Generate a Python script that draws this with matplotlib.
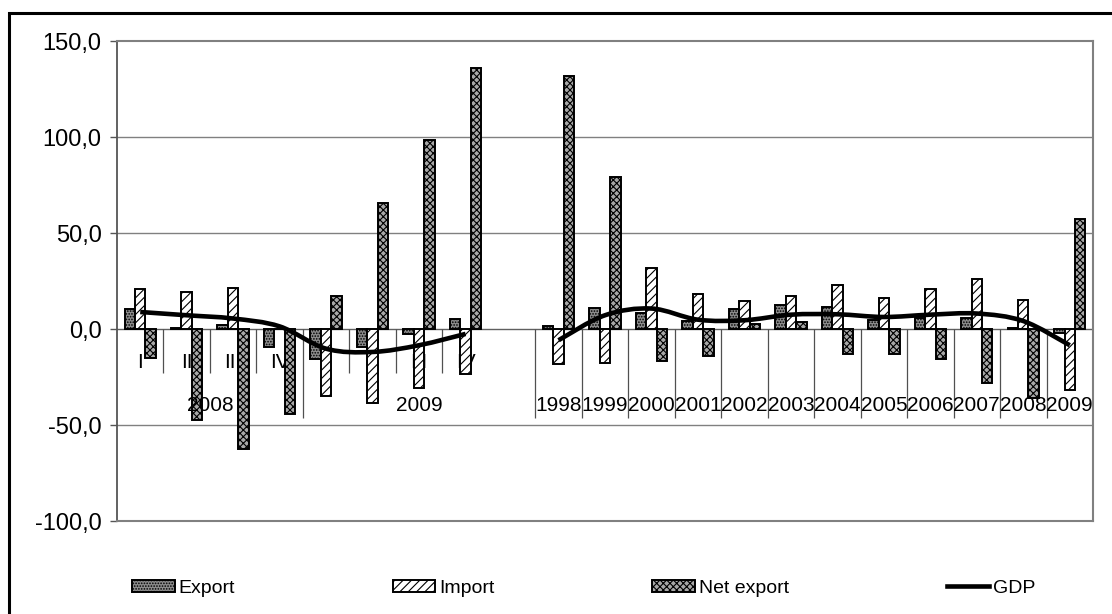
import numpy as np
import matplotlib
matplotlib.use("Agg")
import matplotlib.pyplot as plt
from matplotlib.path import Path
from matplotlib.patches import PathPatch, Rectangle
from matplotlib.lines import Line2D

plt.rcParams["font.family"] = ["Liberation Sans", "DejaVu Sans"]
plt.rcParams["hatch.linewidth"] = 0.8

# quarterly block: 2008 I-IV, 2009 I-IV
quarter_labels = ["I", "II", "III", "IV", "I", "II", "III", "IV"]
quarter_groups = ["2008", "2009"]
export_q = [10.3, 0.5, 2.1, -9.2, -15.3, -9.2, -2.3, 5.3]
import_q = [21.2, 19.4, 21.7, 0.0, -34.7, -38.4, -30.6, -23.1]
net_export_q = [-14.9, -47.4, -62.1, -43.9, 17.4, 65.8, 98.4, 135.9]
gdp_q = [9.0, 7.3, 5.6, 1.5, -10.1, -11.8, -8.3, -2.4]

# annual block: 1998-2009
years = ["1998", "1999", "2000", "2001", "2002", "2003",
         "2004", "2005", "2006", "2007", "2008", "2009"]
export_y = [1.9, 11.3, 8.7, 4.2, 10.4, 12.5, 11.6, 4.7, 6.1, 6.1, 0.5, -2.0]
import_y = [-17.9, -17.5, 32.1, 18.6, 14.8, 17.2, 22.9, 16.3, 21.2, 26.4, 15.1, -31.4]
net_export_y = [131.8, 79.3, -16.7, -13.7, 2.6, 3.8, -13.0, -12.7, -15.3, -27.9, -35.8, 57.6]
gdp_y = [-5.7, 7.3, 10.8, 5.0, 4.7, 7.6, 7.8, 6.4, 7.6, 8.2, 4.3, -8.3]

# category slots: 8 quarters, one empty slot, then the years
x_q = np.arange(len(quarter_labels))
x_y = np.arange(len(years)) + len(quarter_labels) + 1
n_cats = len(quarter_labels) + 1 + len(years)


def smooth_path(x, y):
    # cubic bezier through the points (excel-style smoothed line)
    pts = np.column_stack([x, y]).astype(float)
    n = len(pts)
    verts = [pts[0]]
    codes = [Path.MOVETO]
    for i in range(n - 1):
        p0 = pts[max(i - 1, 0)]
        p1 = pts[i]
        p2 = pts[i + 1]
        p3 = pts[min(i + 2, n - 1)]
        verts += [p1 + (p2 - p0) / 6, p2 - (p3 - p1) / 6, p2]
        codes += [Path.CURVE4] * 3
    return Path(verts, codes)


fig = plt.figure(figsize=(11.12, 6.14), dpi=100)
ax = fig.add_axes([0.1052, 0.1507, 0.8777, 0.7825])

w = 0.225
styles = [
    ("Export", dict(facecolor="#8c8c8c", hatch="......")),
    ("Import", dict(facecolor="white", hatch="////")),
    ("Net export", dict(facecolor="#a8a8a8", hatch="xxxxx")),
]
series_q = [export_q, import_q, net_export_q]
series_y = [export_y, import_y, net_export_y]
handles = []
for k, (name, st) in enumerate(styles):
    off = (k - 1) * w
    b = ax.bar(x_q + off, series_q[k], width=w, edgecolor="black", linewidth=1.4,
               label=name, zorder=3, **st)
    ax.bar(x_y + off, series_y[k], width=w, edgecolor="black", linewidth=1.4,
           zorder=3, **st)
    handles.append(b)

# GDP lines, drawn smooth
for xs, ys in [(x_q, gdp_q), (x_y, gdp_y)]:
    ax.add_patch(PathPatch(smooth_path(xs, ys), fill=False, edgecolor="black",
                           linewidth=3.3, joinstyle="round", capstyle="butt", zorder=4))
handles.append(Line2D([], [], color="black", linewidth=3.3))

ax.set_xlim(-0.5, n_cats - 0.5)
ax.set_ylim(-100, 150)

# grid and zero axis
for v in [-50, 50, 100]:
    ax.axhline(v, color="#808080", linewidth=1.0, zorder=1)
ax.axhline(0, color="#606060", linewidth=1.0, zorder=2)

# category separators: short between quarters, long between groups / years
short_sep = [i + 0.5 for i in range(len(quarter_labels)) if (i + 1) % 4 != 0]
long_sep = [3.5, len(quarter_labels) + 0.5] + list(x_y + 0.5)
ax.vlines(short_sep, -23, 0, color="#505050", linewidth=0.9, zorder=2)
ax.vlines(long_sep, -46, 0, color="#505050", linewidth=0.9, zorder=2)

# category labels
for xi, lab in zip(x_q, quarter_labels):
    ax.text(xi, -17.2, lab, ha="center", va="center", fontsize=15, zorder=2)
ax.text(1.5, -39.6, quarter_groups[0], ha="center", va="center", fontsize=15)
ax.text(6.0, -39.6, quarter_groups[1], ha="center", va="center", fontsize=15)
for xi, lab in zip(x_y, years):
    ax.text(xi, -39.6, lab, ha="center", va="center", fontsize=15)

ax.set_xticks([])
yt = np.arange(-100, 151, 50)
ax.set_yticks(yt)
ax.set_yticklabels([f"{v:.1f}".replace(".", ",") for v in yt])
ax.tick_params(axis="y", direction="out", length=5, width=1, color="#555555",
               labelsize=17, pad=6)
for side in ["top", "right", "bottom"]:
    ax.spines[side].set_color("#808080")
    ax.spines[side].set_linewidth(1.5)
ax.spines["left"].set_color("#555555")
ax.spines["left"].set_linewidth(1.3)

fig.legend(handles, ["Export", "Import", "Net export", "GDP"], loc="center",
           bbox_to_anchor=(0.525, 0.042), ncol=4, frameon=False, fontsize=14,
           handlelength=2.2, handleheight=0.6, handletextpad=0.2, columnspacing=8.1)

# chart border
fig.add_artist(Rectangle((9 / 1112, -0.05), 1.2, 1.0288, transform=fig.transFigure,
                         fill=False, edgecolor="black", linewidth=2.2))

fig.savefig("out.png", dpi=100)
